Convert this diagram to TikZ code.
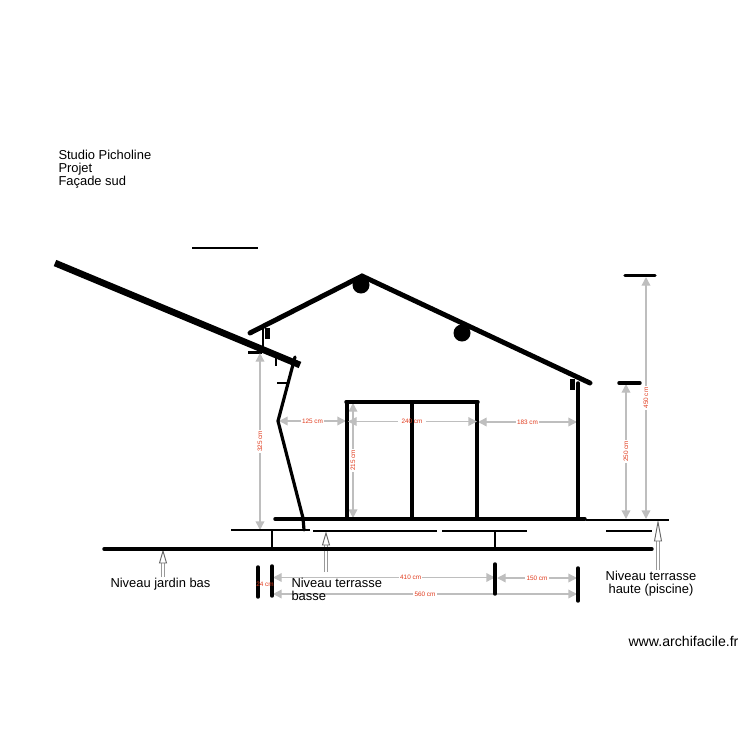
\documentclass[tikz,border=0pt]{standalone}
\usepackage{fontspec}
\setmainfont{Liberation Sans}
\usetikzlibrary{arrows.meta}
\definecolor{dimgrey}{RGB}{190,190,190}
\definecolor{dimred}{RGB}{225,60,30}
\tikzset{
	every picture/.style={line width=0.75pt},
	wall/.style={line width=2.6pt,line cap=round},
	thinwall/.style={line width=1.7pt},
	dimline/.style={draw=dimgrey,line width=1pt,{Triangle[length=6.5pt,width=6.5pt]}-{Triangle[length=6.5pt,width=6.5pt]}},
	dimlabel/.style={text=dimred,fill=white,inner sep=1pt,font=\fontsize{4.8}{5}\selectfont},
	levelshaft/.style={draw=black!40,line width=0.8pt,double=white,double distance=0.8pt},
	levelhead/.style={draw=black!60,line width=0.7pt,fill=white,line join=miter},
	caption/.style={inner sep=0pt,font=\fontsize{9.7}{9.75}\selectfont},
}
\begin{document}
\begin{tikzpicture}[x=0.75pt,y=0.75pt,yscale=-1,xscale=1]
	\useasboundingbox (0,0) rectangle (750,750);
	
	% roofs
	\draw [line width=5pt] (55,263) -- (300,365);
	\draw [line width=3.7pt,line cap=round,line join=miter] (250,333) -- (362,276) -- (590,383);
	\fill (361,285) circle (8.5);
	\fill (462,333) circle (8.5);
	\draw [thinwall] (192,248) -- (258,248);
	
	% small pieces under the roofs
	\draw [thinwall] (263,328) -- (263,352);
	\fill (264.5,328) rectangle (270,339);
	\draw [thinwall] (248,352.5) -- (262,352.5);
	\draw [thinwall] (276,358) -- (276,366);
	\draw [thinwall] (277,383) -- (287,383);
	\fill (570,379) rectangle (575,390);
	
	% dimensions
	\draw [dimline] (260,353) -- (260,530) node [dimlabel,midway,rotate=90] (dimWall) {325 cm};
	\draw [dimline] (279,421) -- (346,421) node [dimlabel,midway] (dimLeft) {125 cm};
	\draw [dimline] (478,422) -- (577,422) node [dimlabel,midway] (dimRight) {183 cm};
	\draw [dimline] (353,403) -- (353,518) node [dimlabel,midway,rotate=90] (dimDoorH) {215 cm};
	\draw [dimline] (626,384) -- (626,519) node [dimlabel,midway,rotate=90] (dimLow) {250 cm};
	\draw [dimline] (646,277) -- (646,519) node [dimlabel,midway,rotate=90] (dimHigh) {450 cm};
	\draw [dimline] (273,577.5) -- (495,577.5) node [dimlabel,pos=0.62] (dimBase) {410 cm};
	\draw [dimline] (497,578) -- (577,578) node [dimlabel,midway] (dimEnd) {150 cm};
	\draw [dimline] (273,594) -- (577,594) node [dimlabel,midway] (dimAll) {560 cm};
	
	% level arrows
	\draw [levelshaft] (163,577) -- (163,562);
	\draw [levelhead] (163,551) -- (166.5,563) -- (159.5,563) -- cycle;
	\draw [levelshaft] (326,572) -- (326,545);
	\draw [levelhead] (326,533) -- (329.5,545) -- (322.5,545) -- cycle;
	\draw [levelshaft] (658,570) -- (658,540);
	\draw [levelhead] (658,522) -- (661.5,541) -- (654.5,541) -- cycle;
	
	% walls and door frame
	\draw [line width=2.4pt,line cap=round,line join=round] (295,357) -- (278,421) -- (303,518) -- (304,530);
	\draw [wall] (346,402) -- (478,402);
	\draw [wall] (347,402) -- (347,519);
	\draw [wall] (477,402) -- (477,519);
	\draw [wall] (578,383) -- (578,519);
	\draw [dimline,{Triangle[length=6.5pt,width=6.5pt]}-] (348,421.5) -- (398,421.5);
	\draw [dimline,-{Triangle[length=6.5pt,width=6.5pt]}] (426,421.5) -- (477,421.5);
	\draw [wall] (412,402) -- (412,519);
	\node [dimlabel,fill=none] (dimDoor) at (412,421) {240 cm};
	
	% floors
	\draw [wall] (275,519) -- (585,519);
	\draw [thinwall] (586,520) -- (669,520);
	\draw [thinwall] (231,530) -- (310,530);
	\draw [thinwall] (313,531) -- (437,531);
	\draw [thinwall] (442,531) -- (527,531);
	\draw [thinwall] (606,531) -- (652,531);
	\draw [thinwall] (272,530) -- (272,549);
	\draw [thinwall] (495,531) -- (495,549);
	\draw [wall] (104,549) -- (652,549);
	
	% end marks of the dimensions
	\draw [wall] (258,567) -- (258,597);
	\draw [wall] (272,566) -- (272,596);
	\draw [wall] (495,564) -- (495,594);
	\draw [wall] (578,568) -- (578,601);
	\draw [wall] (625,275.5) -- (655,275.5);
	\draw [wall] (619,383) -- (640,383);
	\node [dimlabel,fill=none] (dimStep) at (265,584) {24 cm};
	
	% texts
	\node [caption,anchor=north west,align=left] (title) at (58,150) {Studio Picholine\\Projet\\Façade sud};
	\node [caption,anchor=north west] (levelGarden) at (110,578) {Niveau jardin bas};
	\node [caption,anchor=north west,align=left] (levelLow) at (291,578) {Niveau terrasse\\basse};
	\node [caption,anchor=north,align=center] (levelHigh) at (651,571) {Niveau terrasse\\haute (piscine)};
	\node [caption,anchor=north west,font=\fontsize{10.6}{12}\selectfont] (site) at (628,636) {www.archifacile.fr};
\end{tikzpicture}
\end{document}
